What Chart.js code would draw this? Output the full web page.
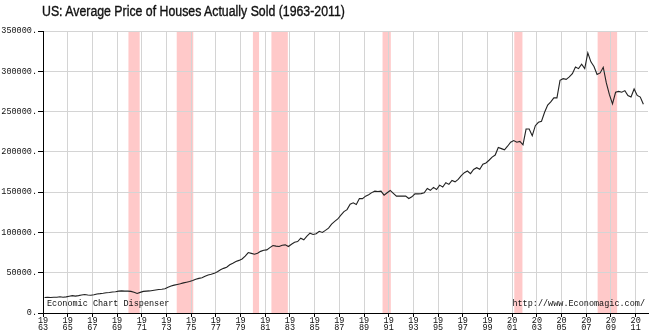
<!DOCTYPE html>
<html lang="en">
<head>
<meta charset="UTF-8" />
<title>US: Average Price of Houses Actually Sold</title>
<script src="https://cdn.jsdelivr.net/npm/chart.js"></script>
<style>
    html, body { margin: 0; padding: 0; background: #fff; }
    #wrap { position: relative; width: 660px; height: 331px; }
    #title { position: absolute; left: 42px; top: 3px; margin: 0; white-space: nowrap;
        font: 14px 'Liberation Sans', Arial, sans-serif; color: #111; -webkit-text-stroke: 0.35px #111;
        transform: scaleX(0.88); transform-origin: left top; }
</style>
</head>
<body>
<div id="wrap">
    <h1 id="title">US: Average Price of Houses Actually Sold (1963-2011)</h1>
    <canvas id="chart"></canvas>
</div>
<script>
// quarterly average sale price, 1963 Q1 .. 2011 Q3
const startYear = 1963;
const prices = [
    19300, 19400, 19200, 19600,   // 1963
    19600, 20200, 19500, 20000,   // 1964
    20800, 21500, 21000, 21600,   // 1965
    22300, 22900, 22400, 22000,   // 1966
    22600, 23600, 24000, 24500,   // 1967
    25200, 25500, 26000, 26300,   // 1968
    27100, 27500, 27200, 27100,   // 1969
    26800, 25800, 24300, 25600,   // 1970
    26800, 27200, 27400, 28000,   // 1971
    28600, 29200, 29500, 30200,   // 1972
    32000, 33400, 34600, 35400,   // 1973
    36200, 37400, 38200, 39000,   // 1974
    40300, 41800, 43000, 43800,   // 1975
    45600, 47100, 48000, 49200,   // 1976
    51300, 53700, 55400, 56800,   // 1977
    59800, 61700, 63800, 65300,   // 1978
    67100, 70500, 75000, 74000,   // 1979
    72900, 74200, 76500, 77800,   // 1980
    78300, 81200, 83700, 83000,   // 1981
    82500, 84000, 84600, 82500,   // 1982
    85400, 87900, 88700, 92900,   // 1983
    90800, 95300, 99100, 97500,   // 1984
    98300, 101400, 100000, 102500, // 1985
    105400, 110300, 113700, 116700, // 1986
    121400, 125800, 128300, 135000, // 1987
    136700, 134600, 142100, 142000, // 1988
    145000, 146800, 149400, 151200, // 1989
    150800, 151300, 146300, 149200, // 1990
    152100, 148500, 145000, 145000, // 1991
    145000, 145000, 142100, 144200, // 1992
    147900, 147900, 148200, 149100, // 1993
    154600, 152300, 155900, 153300, // 1994
    158700, 156400, 161700, 159600, // 1995
    164600, 162800, 165800, 170600, // 1996
    174200, 176200, 172900, 178200, // 1997
    180400, 178300, 184600, 186200, // 1998
    189600, 193500, 196000, 205400, // 1999
    204000, 202500, 207000, 212000, // 2000
    214000, 212000, 213000, 208700, // 2001
    228300, 228300, 220000, 232500, // 2002
    236700, 238000, 249200, 258000, // 2003
    262000, 267000, 267000, 288700, // 2004
    290800, 290000, 293000, 297100, // 2005
    305400, 303300, 308700, 303300, // 2006
    322900, 311700, 306000, 296000, // 2007
    298000, 305000, 285600, 271000, // 2008
    259600, 274000, 275000, 274000, // 2009
    276000, 270000, 268000, 278000, // 2010
    270000, 268000, 259000          // 2011
];
const tickYears = [1963, 1965, 1967, 1969, 1971, 1973, 1975, 1977, 1979, 1981, 1983, 1985,
    1987, 1989, 1991, 1993, 1995, 1997, 1999, 2001, 2003, 2005, 2007, 2009, 2011];
const recessions = [
    [1969.92, 1970.83], [1973.83, 1975.17], [1980.0, 1980.5], [1981.5, 1982.83],
    [1990.5, 1991.17], [2001.17, 2001.83], [2007.92, 2009.5]
];

const points = prices.map((p, i) => ({ x: startYear + 0.125 + i / 4, y: p }));
const mono = "'Liberation Mono', 'DejaVu Sans Mono', monospace";

const bands = {
    id: 'bands',
    beforeDraw(chart) {
        const { ctx, chartArea, scales } = chart;
        ctx.save();
        ctx.fillStyle = '#ffc9c9';
        recessions.forEach(r => {
            const x0 = scales.x.getPixelForValue(r[0]);
            const x1 = scales.x.getPixelForValue(r[1]);
            ctx.fillRect(x0, chartArea.top, x1 - x0, chartArea.bottom - chartArea.top);
        });
        ctx.restore();
    },
    afterDraw(chart) {
        const { ctx, chartArea } = chart;
        ctx.save();
        ctx.font = '8.5px ' + mono;
        ctx.fillStyle = '#111';
        ctx.textBaseline = 'middle';
        ctx.textAlign = 'left';
        ctx.fillText('Economic Chart Dispenser', chartArea.left + 4, chartArea.bottom - 9);
        ctx.textAlign = 'right';
        ctx.fillText('http://www.Economagic.com/', chartArea.right - 3, chartArea.bottom - 9);
        ctx.restore();
    }
};

new Chart(document.getElementById('chart'), {
    type: 'line',
    data: {
        datasets: [{
            data: points,
            borderColor: '#222',
            borderWidth: 1.1,
            pointRadius: 0,
            tension: 0,
            fill: false
        }]
    },
    options: {
        responsive: true,
        maintainAspectRatio: false,
        animation: false,
        layout: { padding: { top: 31, right: 12, left: 0, bottom: 0 } },
        plugins: { legend: { display: false }, tooltip: { enabled: false } },
        scales: {
            x: {
                type: 'linear',
                min: 1963,
                max: 2012,
                afterBuildTicks(scale) { scale.ticks = tickYears.map(v => ({ value: v })); },
                afterFit(scale) { scale.height = 18; },
                grid: { color: '#d4d4d4', tickColor: '#000', tickLength: 4 },
                border: { display: true, color: '#000', width: 1 },
                ticks: {
                    autoSkip: false,
                    maxRotation: 0,
                    padding: 0,
                    color: '#111',
                    font: { family: mono, size: 8.5, lineHeight: 0.85 },
                    callback: v => [String(v).slice(0, 2), String(v).slice(2)]
                }
            },
            y: {
                min: 0,
                max: 350000,
                afterFit(scale) { scale.width = 43; },
                grid: { color: '#d4d4d4', tickColor: '#000', tickLength: 5 },
                border: { display: true, color: '#000', width: 1 },
                ticks: {
                    stepSize: 50000,
                    padding: 1,
                    color: '#111',
                    font: { family: mono, size: 8.5 },
                    callback: v => v + '.'
                }
            }
        }
    },
    plugins: [bands]
});
</script>
</body>
</html>
